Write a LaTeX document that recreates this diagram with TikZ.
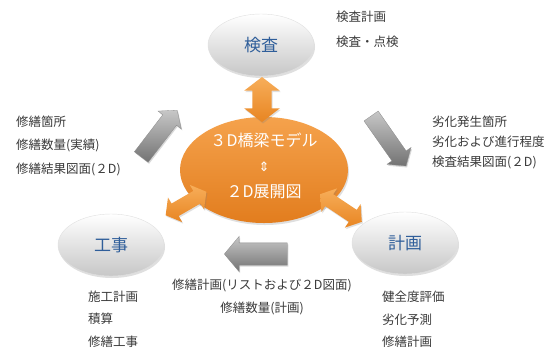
\documentclass[tikz,border=0pt]{standalone}
\usepackage{fontspec}
\setmainfont{Noto Sans CJK JP}
\newfontfamily\symfont{DejaVu Sans}
\usetikzlibrary{shapes.geometric,shapes.arrows,shadows}
\definecolor{txtc}{HTML}{3A3A3A}
\definecolor{ttlc}{HTML}{2F5E9A}
\definecolor{orA}{HTML}{F5A24C}
\definecolor{orB}{HTML}{E27D1E}
\definecolor{orC}{HTML}{F7AE5A}
\definecolor{orD}{HTML}{E88522}
\tikzset{
  phase/.style={ellipse, minimum width=106pt, minimum height=62pt, inner sep=0pt,
    top color=white, bottom color=black!22, draw=black!12, line width=0.4pt,
    drop shadow={opacity=0.25, shadow xshift=1pt, shadow yshift=-2pt},
    text=ttlc, font=\fontsize{17}{20}\selectfont},
  core/.style={ellipse, minimum width=168pt, minimum height=106pt, inner sep=0pt,
    top color=orA, bottom color=orB, draw=none,
    drop shadow={opacity=0.25, shadow xshift=1pt, shadow yshift=-2pt}},
  coretxt/.style={text=white, font=\fontsize{16}{19}\selectfont, inner sep=0pt},
  note/.style={anchor=west, inner sep=0pt, text=txtc, font=\fontsize{12.5}{15}\selectfont},
  cnote/.style={inner sep=0pt, text=txtc, font=\fontsize{12.5}{15}\selectfont},
  grayarrow/.style={single arrow, draw=black!45, line width=0.3pt,
    top color=black!22, bottom color=black!55, inner xsep=0pt, inner ysep=8.5pt,
    single arrow head extend=6pt, single arrow tip angle=100,
    drop shadow={opacity=0.3, shadow xshift=1pt, shadow yshift=-1.5pt}},
  orarrow/.style={double arrow, draw=none, top color=orC, bottom color=orD,
    inner xsep=0pt, double arrow tip angle=105,
    drop shadow={opacity=0.25, shadow xshift=1pt, shadow yshift=-1.5pt}}
}
\begin{document}
\begin{tikzpicture}[x=1pt,y=-1pt]
\useasboundingbox[fill=white] (0,0) rectangle (545,349);

% main ellipses
\node[core] (model) at (264,170) {};
\node[coretxt] (m1) at (264,140) {３D橋梁モデル};
\node[coretxt, font=\symfont\fontsize{13}{15}\selectfont] (m2) at (264,167) {⇕};
\node[coretxt] (m3) at (264,192) {２D展開図};

\node[phase] (kensa) at (261,45) {検査};
\node[phase] (koji) at (111,245) {工事};
\node[phase] (keikaku) at (405,243) {計画};

% orange double arrows
\node[orarrow, minimum height=45pt, inner ysep=9.5pt, double arrow head extend=8pt, rotate=90] (a1) at (262,99.5) {};
\node[orarrow, minimum height=47pt, inner ysep=7pt, double arrow head extend=7pt, rotate=30] (a2) at (186,203.5) {};
\node[orarrow, minimum height=50pt, inner ysep=7pt, double arrow head extend=7pt, rotate=-33.7] (a3) at (341,208) {};

% gray flow arrows
\node[grayarrow, minimum height=59pt, rotate=52.5] (g1) at (157,136.5) {};
\node[grayarrow, minimum height=61pt, rotate=-55] (g2) at (386.5,138) {};
\node[grayarrow, minimum height=63pt, inner ysep=11pt, single arrow head extend=6.5pt, rotate=180] (g3) at (260.5,254) {};

% notes
\node[note] (n1) at (336,17) {検査計画};
\node[note] (n2) at (336,42) {検査・点検};

\node[note] (n3) at (16,122) {修繕箇所};
\node[note] (n4) at (16,145) {修繕数量(実績)};
\node[note] (n5) at (16,169) {修繕結果図面(２D)};

\node[note] (n6) at (432,122) {劣化発生箇所};
\node[note] (n7) at (432,142) {劣化および進行程度};
\node[note] (n8) at (432,162) {検査結果図面(２D)};

\node[cnote] (n9) at (262,285) {修繕計画(リストおよび２D図面)};
\node[cnote] (n10) at (262,308) {修繕数量(計画)};

\node[note] (n11) at (88,297) {施工計画};
\node[note] (n12) at (88,319) {積算};
\node[note] (n13) at (88,342) {修繕工事};

\node[note] (n14) at (382,297) {健全度評価};
\node[note] (n15) at (382,320) {劣化予測};
\node[note] (n16) at (382,342) {修繕計画};
\end{tikzpicture}
\end{document}
